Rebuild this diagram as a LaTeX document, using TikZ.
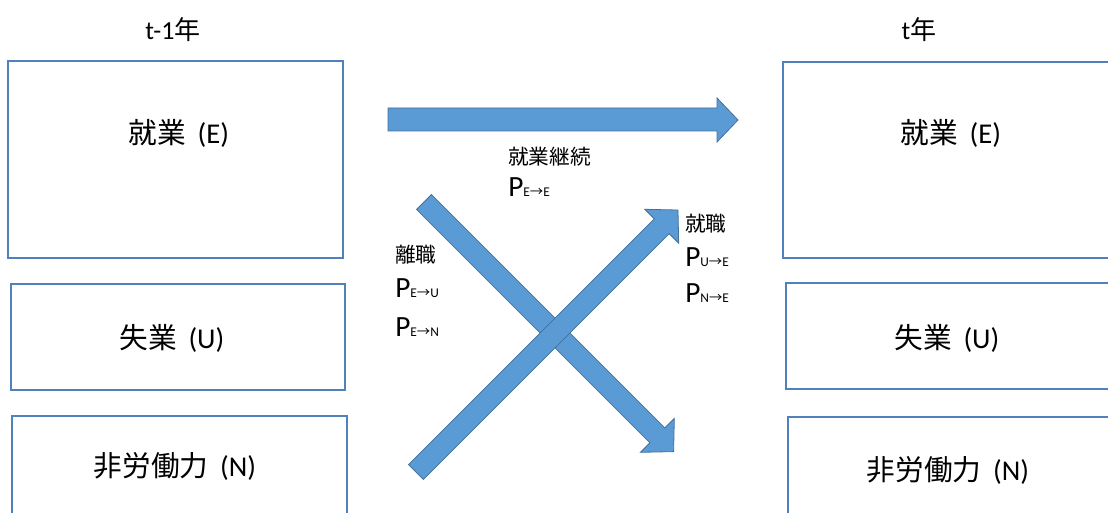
\documentclass[tikz,border=0pt]{standalone}
\usepackage{fontspec}
\setmainfont{Carlito}
\newfontfamily\cjk{Noto Sans CJK JP}
\usetikzlibrary{fit}
\definecolor{boxblue}{RGB}{79,129,189}
\definecolor{arrowfill}{RGB}{91,155,213}
\definecolor{arrowline}{RGB}{65,113,156}
\newcommand\trans[2]{P{\fontsize{10}{12}\selectfont #1{\cjk →}#2}}
\newcommand\statename[2]{{\cjk #1}\hspace{0.4em}(#2)}
\tikzset{
  statebox/.style={draw=boxblue, line width=1.1pt, fill=white, inner sep=0pt},
  blockarrow/.style={fill=arrowfill, draw=arrowline, line width=0.6pt, line join=miter},
  biglabel/.style={font=\fontsize{21.5}{24}\selectfont, inner sep=0pt},
  toplabel/.style={font=\fontsize{19.5}{22}\selectfont, inner sep=0pt},
  smalllabel/.style={font=\fontsize{15.5}{18}\selectfont, inner sep=0pt, anchor=west},
  plabel/.style={font=\fontsize{22}{24}\selectfont, inner sep=0pt, anchor=base west},
}
\begin{document}
\begin{tikzpicture}[x=0.75pt,y=-0.75pt]
\useasboundingbox (0,0) rectangle (1108,513);
\clip (0,0) rectangle (1108,513);
% year labels
\node[toplabel] (yprev) at (173,30) {t-1{\cjk 年}};
\node[toplabel] (ycur) at (919,30) {t{\cjk 年}};
% state boxes
\node[statebox, fit={(8,61) (343,258)}] (leftE) {};
\node[statebox, fit={(11,284) (345,390)}] (leftU) {};
\node[statebox, fit={(12,416) (347,540)}] (leftN) {};
\node[statebox, fit={(783,62) (1130,258)}] (rightE) {};
\node[statebox, fit={(786,283) (1130,389)}] (rightU) {};
\node[statebox, fit={(788,417) (1130,540)}] (rightN) {};
% box labels
\node[biglabel] (tleftE) at (179,133) {\statename{就業}{E}};
\node[biglabel] (tleftU) at (172,338) {\statename{失業}{U}};
\node[biglabel] (tleftN) at (175,466) {\statename{非労働力}{N}};
\node[biglabel] (trightE) at (951,133) {\statename{就業}{E}};
\node[biglabel] (trightU) at (947,338) {\statename{失業}{U}};
\node[biglabel] (trightN) at (948,470) {\statename{非労働力}{N}};
% horizontal block arrow
\draw[blockarrow] (388,108) -- (717,108) -- (717,98) -- (738,120) -- (717,142) -- (717,131) -- (388,131) -- cycle;
% down-right block arrow
\begin{scope}[shift={(424,202)}, rotate=-45]
\draw[blockarrow] (0,-10.5) -- (330,-10.5) -- (330,-24) -- (353,0) -- (330,24) -- (330,10.5) -- (0,10.5) -- cycle;
\end{scope}
% up-right block arrow
\begin{scope}[shift={(416,472)}, rotate=45]
\draw[blockarrow] (0,-10.5) -- (347.5,-10.5) -- (347.5,-24) -- (370.5,0) -- (347.5,24) -- (347.5,10.5) -- (0,10.5) -- cycle;
\end{scope}
% transition labels
\node[smalllabel] (lcont) at (508,157) {\cjk 就業継続};
\node[plabel] (pee) at (508,197) {\trans{E}{E}};
\node[smalllabel] (lsep) at (395,255) {\cjk 離職};
\node[plabel] (peu) at (395,298) {\trans{E}{U}};
\node[plabel] (pen) at (395,337) {\trans{E}{N}};
\node[smalllabel] (ljob) at (685,224) {\cjk 就職};
\node[plabel] (pue) at (685,267) {\trans{U}{E}};
\node[plabel] (pne) at (685,303) {\trans{N}{E}};
\end{tikzpicture}
\end{document}
